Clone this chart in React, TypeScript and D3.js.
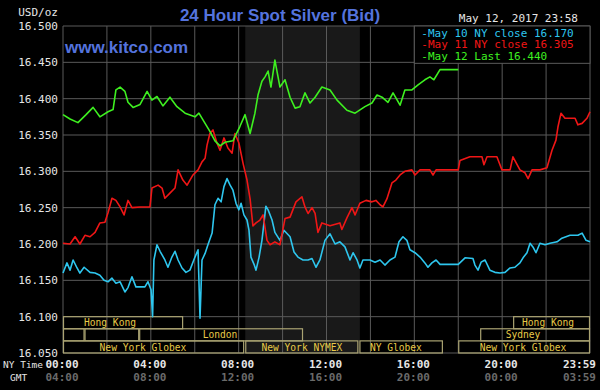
import * as d3 from "d3";

const W = 600;
const H = 390;

const yTicks = [16.05, 16.1, 16.15, 16.2, 16.25, 16.3, 16.35, 16.4, 16.45, 16.5];
const gridHours = [0, 2, 4, 6, 8, 10, 12, 14, 16, 18, 20, 22, 24];
const axisHours = [0, 4, 8, 12, 16, 20, 24];
const nyTimeLabels = ["00:00", "04:00", "08:00", "12:00", "16:00", "20:00", "23:59"];
const gmtLabels = ["04:00", "08:00", "12:00", "16:00", "20:00", "00:00", "03:59"];

// NYMEX pit hours (shaded band)
const nymexHours = [8.3, 13.52];

// [hour of NY day, price]
const may10: [number, number][] = [
  [0.0, 16.16], [0.18, 16.174], [0.32, 16.164], [0.46, 16.178], [0.64, 16.167], [0.77, 16.16],
  [0.96, 16.168], [1.23, 16.161], [1.46, 16.16], [1.68, 16.157], [1.87, 16.15], [2.05, 16.148],
  [2.23, 16.153], [2.41, 16.146], [2.6, 16.148], [2.82, 16.134], [2.96, 16.14], [3.14, 16.155],
  [3.32, 16.141], [3.73, 16.141], [3.87, 16.148], [4.01, 16.137], [4.08, 16.1], [4.14, 16.178],
  [4.28, 16.199], [4.42, 16.19], [4.64, 16.178], [4.78, 16.168], [4.96, 16.182], [5.1, 16.19],
  [5.24, 16.178], [5.42, 16.167], [5.6, 16.161], [5.78, 16.164], [6.01, 16.182], [6.15, 16.192],
  [6.24, 16.098], [6.33, 16.178], [6.47, 16.187], [6.6, 16.199], [6.79, 16.215], [6.92, 16.254],
  [7.06, 16.263], [7.2, 16.258], [7.33, 16.279], [7.47, 16.29], [7.61, 16.281], [7.74, 16.274],
  [7.88, 16.256], [8.01, 16.247], [8.11, 16.256], [8.24, 16.24], [8.38, 16.233], [8.47, 16.219],
  [8.56, 16.182], [8.7, 16.172], [8.79, 16.164], [8.93, 16.182], [9.06, 16.205], [9.24, 16.252],
  [9.34, 16.247], [9.52, 16.233], [9.65, 16.216], [9.88, 16.205], [10.06, 16.219], [10.34, 16.21],
  [10.52, 16.189], [10.7, 16.182], [10.93, 16.178], [11.16, 16.178], [11.34, 16.18], [11.52, 16.168],
  [11.7, 16.178], [11.93, 16.205], [12.16, 16.214], [12.39, 16.2], [12.61, 16.203], [12.84, 16.196],
  [13.07, 16.178], [13.21, 16.188], [13.39, 16.178], [13.52, 16.167], [13.66, 16.178], [13.98, 16.178],
  [14.21, 16.175], [14.44, 16.178], [14.66, 16.171], [14.89, 16.178], [15.12, 16.182], [15.3, 16.203],
  [15.48, 16.21], [15.66, 16.205], [15.8, 16.192], [16.03, 16.188], [16.26, 16.182], [16.48, 16.174],
  [16.62, 16.168], [16.8, 16.174], [16.99, 16.178], [17.17, 16.172], [18.0, 16.172], [18.31, 16.181],
  [18.67, 16.18], [18.76, 16.171], [18.9, 16.164], [19.04, 16.175], [19.22, 16.178], [19.44, 16.164],
  [19.67, 16.161], [19.9, 16.16], [20.13, 16.161], [20.36, 16.167], [20.58, 16.168], [20.81, 16.174],
  [20.95, 16.181], [21.13, 16.188], [21.27, 16.201], [21.4, 16.196], [21.54, 16.188], [21.72, 16.201],
  [21.95, 16.199], [22.18, 16.201], [22.5, 16.203], [22.72, 16.208], [23.09, 16.212], [23.45, 16.212],
  [23.64, 16.215], [23.82, 16.205], [24.0, 16.203],
];

const may11: [number, number][] = [
  [0.0, 16.201], [0.32, 16.2], [0.55, 16.21], [0.77, 16.2], [1.0, 16.212], [1.23, 16.21],
  [1.46, 16.216], [1.68, 16.229], [1.91, 16.23], [2.05, 16.243], [2.23, 16.263], [2.41, 16.26],
  [2.6, 16.251], [2.78, 16.24], [2.96, 16.26], [3.14, 16.25], [3.51, 16.251], [3.96, 16.251],
  [4.05, 16.277], [4.33, 16.281], [4.51, 16.277], [4.64, 16.263], [4.87, 16.27], [5.1, 16.277],
  [5.24, 16.302], [5.46, 16.288], [5.65, 16.281], [5.92, 16.295], [6.15, 16.302], [6.33, 16.313],
  [6.47, 16.318], [6.56, 16.336], [6.69, 16.352], [6.83, 16.357], [7.01, 16.339], [7.15, 16.329],
  [7.33, 16.346], [7.51, 16.332], [7.7, 16.325], [7.83, 16.352], [8.01, 16.339], [8.2, 16.311],
  [8.38, 16.288], [8.52, 16.262], [8.65, 16.225], [8.79, 16.229], [8.97, 16.233], [9.11, 16.24],
  [9.29, 16.205], [9.43, 16.199], [9.65, 16.203], [9.88, 16.199], [10.11, 16.235], [10.34, 16.237],
  [10.61, 16.258], [10.88, 16.265], [11.02, 16.251], [11.16, 16.242], [11.34, 16.25], [11.48, 16.242],
  [11.61, 16.216], [11.79, 16.229], [12.16, 16.225], [12.61, 16.229], [12.7, 16.22], [12.93, 16.236],
  [13.16, 16.25], [13.3, 16.24], [13.52, 16.256], [13.8, 16.26], [14.07, 16.258], [14.25, 16.26],
  [14.44, 16.254], [14.57, 16.251], [14.75, 16.262], [14.98, 16.284], [15.16, 16.288], [15.35, 16.295],
  [15.57, 16.3], [15.89, 16.302], [16.03, 16.295], [16.26, 16.302], [16.71, 16.302], [16.85, 16.295],
  [16.99, 16.302], [18.0, 16.302], [18.08, 16.315], [18.53, 16.32], [19.08, 16.32], [19.17, 16.309],
  [19.31, 16.32], [19.76, 16.32], [19.99, 16.302], [20.36, 16.302], [20.49, 16.32], [20.81, 16.302],
  [21.04, 16.298], [21.18, 16.29], [21.36, 16.302], [21.72, 16.302], [22.04, 16.305], [22.27, 16.329],
  [22.45, 16.343], [22.54, 16.361], [22.68, 16.38], [22.86, 16.373], [23.32, 16.373], [23.45, 16.364],
  [23.64, 16.366], [23.86, 16.373], [24.0, 16.382],
];

const may12: [number, number][] = [
  [0.0, 16.378], [0.32, 16.372], [0.68, 16.367], [1.05, 16.378], [1.37, 16.388], [1.68, 16.375],
  [2.05, 16.382], [2.28, 16.385], [2.41, 16.412], [2.6, 16.416], [2.82, 16.41], [2.96, 16.395],
  [3.19, 16.388], [3.51, 16.392], [3.83, 16.41], [4.05, 16.398], [4.28, 16.403], [4.55, 16.39],
  [4.87, 16.402], [5.19, 16.389], [5.56, 16.38], [6.01, 16.375], [6.19, 16.38], [6.47, 16.366],
  [6.69, 16.355], [6.92, 16.342], [7.15, 16.335], [7.38, 16.34], [7.74, 16.342], [8.06, 16.362],
  [8.29, 16.378], [8.52, 16.352], [8.74, 16.38], [8.88, 16.405], [9.06, 16.424], [9.2, 16.43],
  [9.34, 16.438], [9.47, 16.416], [9.65, 16.453], [9.88, 16.416], [10.11, 16.426], [10.34, 16.402],
  [10.57, 16.387], [10.79, 16.389], [11.02, 16.408], [11.25, 16.394], [11.48, 16.402], [11.79, 16.416],
  [12.16, 16.412], [12.48, 16.398], [12.93, 16.384], [13.3, 16.38], [13.75, 16.389], [14.07, 16.394],
  [14.3, 16.405], [14.53, 16.402], [14.8, 16.395], [15.03, 16.408], [15.35, 16.391], [15.57, 16.412],
  [15.89, 16.412], [16.17, 16.419], [16.48, 16.426], [16.71, 16.43], [16.89, 16.426], [17.17, 16.44],
  [18.0, 16.44],
];

const CYAN = "#2ec6ee";
const RED = "#f01616";
const GREEN = "#3ef020";

const seriesList = [
  { data: may10, color: CYAN },
  { data: may11, color: RED },
  { data: may12, color: GREEN },
];

const legendItems = [
  { text: "-May 10 NY close 16.170", color: CYAN },
  { text: "-May 11 NY close 16.305", color: RED },
  { text: "-May 12 Last 16.440", color: GREEN },
];

// trading sessions: row 0 top, row 2 bottom
const sessions = [
  { row: 0, start: 0, end: 5.47, label: "Hong Kong", labelAt: 2.14 },
  { row: 0, start: 20.5, end: 24, label: "Hong Kong", labelAt: 22.09 },
  { row: 1, start: 0, end: 0.98, label: "", labelAt: 0 },
  { row: 1, start: 0.98, end: 3.47, label: "", labelAt: 0 },
  { row: 1, start: 3.47, end: 10.93, label: "London", labelAt: 7.15 },
  { row: 1, start: 19.0, end: 24, label: "Sydney", labelAt: 20.95 },
  { row: 2, start: 0, end: 8.25, label: "New York Globex", labelAt: 3.64 },
  { row: 2, start: 8.3, end: 13.45, label: "New York NYMEX", labelAt: 10.88 },
  { row: 2, start: 13.5, end: 17.3, label: "NY Globex", labelAt: 15.16 },
  { row: 2, start: 18.0, end: 24, label: "New York Globex", labelAt: 20.95 },
];

const MONO = "'DejaVu Sans Mono', monospace";
const SANS = "'Liberation Sans', Arial, sans-serif";

export default function App() {
  const x = d3.scaleLinear().domain([0, 24]).range([63, 590]);
  const y = d3.scaleLinear().domain([16.05, 16.5]).range([353, 26]);

  const line = d3
    .line<[number, number]>()
    .x((d) => x(d[0]))
    .y((d) => y(d[1]));

  const rowTop = y(16.1);
  const rowH = (y(16.05) - y(16.1)) / 3;

  return (
    <svg
      width={W}
      height={H}
      style={{ position: "absolute", left: 0, top: 0, background: "#000" }}
    >
      <rect width={W} height={H} fill="#000" />
      <rect
        x={x(nymexHours[0])}
        y={y(16.5)}
        width={x(nymexHours[1]) - x(nymexHours[0])}
        height={y(16.05) - y(16.5)}
        fill="#191919"
      />

      {/* grid */}
      {yTicks.map((t) => (
        <line key={"h" + t} x1={x(0)} x2={x(24)} y1={y(t)} y2={y(t)} stroke="#5a5a5a" strokeWidth={1} />
      ))}
      {gridHours.map((h) => (
        <line key={"v" + h} x1={x(h)} x2={x(h)} y1={y(16.5)} y2={y(16.05)} stroke="#5a5a5a" strokeWidth={1} />
      ))}

      {/* sessions */}
      {sessions.map((s, i) => (
        <g key={"s" + i}>
          <rect
            x={x(s.start) + 0.5}
            y={rowTop + s.row * rowH}
            width={x(s.end) - x(s.start) - 1}
            height={rowH}
            fill="none"
            stroke="#aaa372"
            strokeWidth={1.2}
          />
          {s.label && (
            <text
              x={x(s.labelAt)}
              y={rowTop + s.row * rowH + rowH - 2.5}
              textAnchor="middle"
              fontFamily={MONO}
              fontSize={9.6}
              fill="#e8cb48"
            >
              {s.label}
            </text>
          )}
        </g>
      ))}

      {/* series */}
      {seriesList.map((s, i) => (
        <path
          key={"p" + i}
          d={line(s.data) || ""}
          fill="none"
          stroke={s.color}
          strokeWidth={1.6}
          strokeLinejoin="round"
        />
      ))}

      {/* legend */}
      <rect
        x={x(16)}
        y={y(16.5)}
        width={x(24) - x(16)}
        height={y(16.45) - y(16.5) + 1}
        fill="#000"
        stroke="#5a5a5a"
      />
      {legendItems.map((l, i) => (
        <text key={"l" + i} x={x(16) + 7} y={y(16.5) + 10.5 + i * 11.5} fontFamily={MONO} fontSize={11} fill={l.color}>
          {l.text}
        </text>
      ))}

      {/* y axis labels */}
      {yTicks.map((t) => (
        <text key={"yl" + t} x={58} y={y(t) + 4} textAnchor="end" fontFamily={MONO} fontSize={11} fill="#e6e6e6">
          {d3.format(".3f")(t)}
        </text>
      ))}
      <text x={58} y={16} textAnchor="end" fontFamily={MONO} fontSize={11} fill="#e6e6e6">
        USD/oz
      </text>

      {/* x axis labels */}
      <text x={3} y={368} fontFamily={MONO} fontSize={9.5} fill="#e6e6e6">
        NY Time
      </text>
      <text x={10} y={381} fontFamily={MONO} fontSize={9.5} fill="#e6e6e6">
        GMT
      </text>
      {axisHours.map((h, i) => {
        const last = i === axisHours.length - 1;
        return (
          <g key={"xl" + h}>
            <text
              x={last ? 596 : x(h) - 1}
              y={368}
              textAnchor={last ? "end" : "middle"}
              fontFamily={MONO}
              fontSize={11}
              fontWeight="bold"
              fill="#e6e6e6"
            >
              {nyTimeLabels[i]}
            </text>
            <text
              x={last ? 596 : x(h) - 1}
              y={381}
              textAnchor={last ? "end" : "middle"}
              fontFamily={MONO}
              fontSize={11}
              fontWeight="bold"
              fill="#6a6a6a"
            >
              {gmtLabels[i]}
            </text>
          </g>
        );
      })}

      {/* titles */}
      <text x={280} y={21} textAnchor="middle" fontFamily={SANS} fontSize={17} fontWeight="bold" fill="#5473dd">
        24 Hour Spot Silver (Bid)
      </text>
      <text x={65} y={53} fontFamily={SANS} fontSize={17} fontWeight="bold" fill="#5473dd">
        www.kitco.com
      </text>
      <text x={578} y={22} textAnchor="end" fontFamily={MONO} fontSize={11} fill="#e6e6e6">
        May 12, 2017 23:58
      </text>
    </svg>
  );
}
